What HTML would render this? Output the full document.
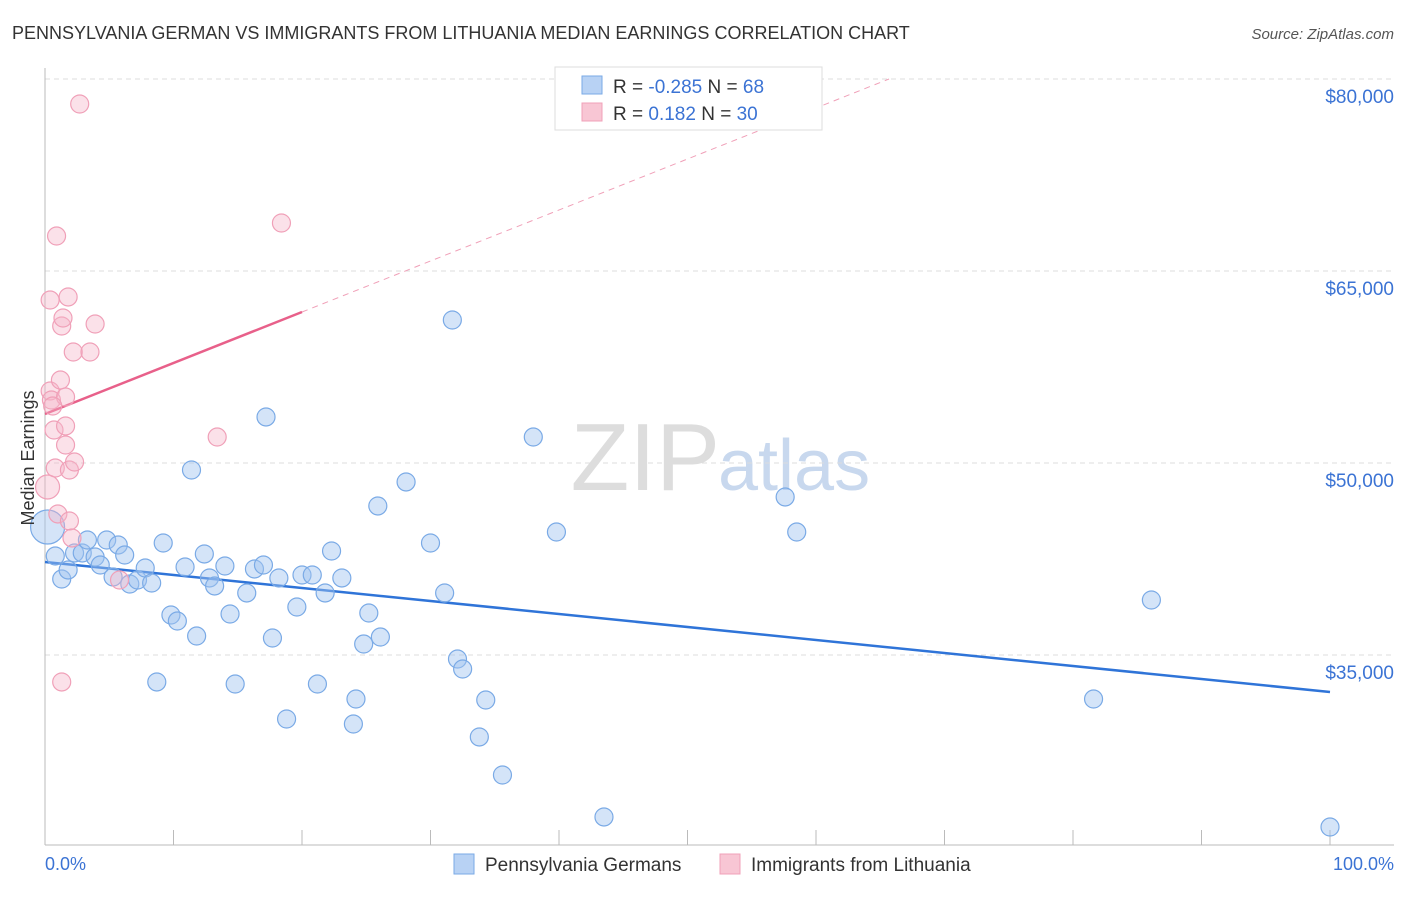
<!DOCTYPE html>
<html><head><meta charset="utf-8"><style>
body{margin:0;background:#fff;font-family:"Liberation Sans",sans-serif}
svg text{font-family:"Liberation Sans",sans-serif}
</style></head><body>
<svg id="chart" width="1406" height="892" xmlns="http://www.w3.org/2000/svg">
<text x="12" y="39" font-size="18" fill="#333">PENNSYLVANIA GERMAN VS IMMIGRANTS FROM LITHUANIA MEDIAN EARNINGS CORRELATION CHART</text>
<text x="1394" y="39" font-size="15" fill="#555" text-anchor="end" font-style="italic">Source: ZipAtlas.com</text>
<text x="720" y="490" font-size="96" fill="#ddd" text-anchor="end" font-family="Liberation Serif">ZIP</text>
<text x="718" y="490" font-size="72" fill="#c8d8ee">atlas</text>
<g id="grid"></g><g id="axes"></g><g id="lines"></g><g id="pts"></g>
<text transform="translate(34,458) rotate(-90)" font-size="18" fill="#333" text-anchor="middle">Median Earnings</text>
<text x="45" y="870" font-size="18" fill="#3b73d4">0.0%</text>
<text x="1394" y="870" font-size="18" fill="#3b73d4" text-anchor="end">100.0%</text>
<g>
<rect x="555" y="67" width="267" height="63" fill="#fff" stroke="#ddd"/>
<rect x="582" y="76" width="20" height="18" fill="#b8d2f4" stroke="#7aaae6"/>
<rect x="582" y="103" width="20" height="18" fill="#f8c6d4" stroke="#f0a0b8"/>
<text x="613" y="93" font-size="19" fill="#333">R = <tspan fill="#3b73d4">-0.285</tspan>   N = <tspan fill="#3b73d4">68</tspan></text>
<text x="613" y="120" font-size="19" fill="#333">R = <tspan fill="#3b73d4">  0.182</tspan>   N = <tspan fill="#3b73d4">30</tspan></text>
</g>
<g>
<rect x="454" y="854" width="20" height="20" fill="#b8d2f4" stroke="#7aaae6"/>
<text x="485" y="871" font-size="19" fill="#333">Pennsylvania Germans</text>
<rect x="720" y="854" width="20" height="20" fill="#f8c6d4" stroke="#f0a0b8"/>
<text x="751" y="871" font-size="19" fill="#333">Immigrants from Lithuania</text>
</g>
</svg>
<script>
const yTicks=[80000,65000,50000,35000];
const yTickLabels=["$80,000","$65,000","$50,000","$35,000"];
const blueX=[0.2,0.8,1.3,1.8,2.3,2.9,3.3,3.9,4.3,4.8,5.3,5.7,6.2,6.6,7.2,7.8,8.3,8.7,9.2,9.8,10.3,10.9,11.4,11.8,12.4,12.8,13.2,14.0,14.4,14.8,15.7,16.3,17.0,17.2,17.7,18.2,18.8,19.6,20.0,20.8,21.2,21.8,22.3,23.1,24.0,24.2,24.8,25.2,25.9,26.1,28.1,30.0,31.1,31.7,32.1,32.5,33.8,34.3,35.6,38.0,39.8,43.5,57.6,58.5,81.6,86.1,100];
const blueY=[45000,42734,40937,41641,42969,42969,43984,42656,42031,43984,41094,43594,42812,40547,40859,41797,40625,32891,43750,38125,37656,41875,49453,36484,42891,41016,40391,41953,38203,32734,39844,41719,42031,53594,36328,41016,30000,38750,41250,41250,32734,39844,43125,41016,29609,31562,35859,38281,46641,36406,48516,43750,39844,61172,34687,33906,28594,31484,25625,52031,44609,22344,47344,44609,31562,39297,21562];
const pinkX=[0.2,0.4,0.4,0.5,0.7,0.8,0.9,1.0,1.2,1.3,1.4,1.6,1.6,1.8,1.9,1.9,2.1,2.2,2.3,2.7,3.5,3.9,5.8,1.3,13.4,18.4,1.6,0.6];
const pinkY=[48125,55625,62734,54922,52578,49609,67734,46016,56484,60703,61328,52891,51406,62969,49453,45469,44141,58672,50078,78047,58672,60859,40859,32891,52031,68750,55156,54453];
const blueLine=[42266,32109];
const pinkLine=[53828,61797];
const X=p=>45+p*12.85, Y=v=>79+(80000-v)*0.0128;
const NS="http://www.w3.org/2000/svg";
function mk(parent,tag,attrs){const e=document.createElementNS(NS,tag);for(const k in attrs)e.setAttribute(k,attrs[k]);document.getElementById(parent).appendChild(e);return e;}
yTicks.forEach((v,i)=>{
 const l=mk('grid','line',{x1:45,x2:1394,y1:Y(v),y2:Y(v),stroke:'#ddd','stroke-dasharray':'5,4'});
 
 
 const t=mk('grid','text',{x:1394,y:Y(v)+24,'font-size':19,fill:'#3b73d4','text-anchor':'end'});
 t.textContent=yTickLabels[i];
 
 
});
const ax=mk('axes','line',{x1:45,x2:1394,y1:845,y2:845,stroke:'#bbb'});


const ay=mk('axes','line',{x1:45,x2:45,y1:68,y2:845,stroke:'#bbb'});


for(let i=0;i<=10;i++){const t=mk('axes','line',{x1:X(i*10),x2:X(i*10),y1:830,y2:845,stroke:'#bbb'});
 
 }
const slope=(pinkLine[1]-pinkLine[0])/20, xEnd=(80000-pinkLine[0])/slope;
const pd=mk('lines','line',{x1:X(20),y1:Y(pinkLine[1]),x2:X(xEnd),y2:Y(80000),stroke:'#f0a0b8','stroke-dasharray':'6,5','stroke-width':1});


const pl=mk('lines','line',{x1:X(0),y1:Y(pinkLine[0]),x2:X(20),y2:Y(pinkLine[1]),stroke:'#e8608a','stroke-width':2.5});


const bl=mk('lines','line',{x1:X(0),y1:Y(blueLine[0]),x2:X(100),y2:Y(blueLine[1]),stroke:'#2f74d8','stroke-width':2.5});


blueX.forEach((x,i)=>{const c=mk('pts','circle',{cx:X(x),cy:Y(blueY[i]),r:i==0?17:9,fill:'rgba(160,196,240,0.45)',stroke:'#7aaae6','stroke-width':1.2});
 
 });
pinkX.forEach((x,i)=>{const c=mk('pts','circle',{cx:X(x),cy:Y(pinkY[i]),r:i==0?12:9,fill:'rgba(245,180,200,0.4)',stroke:'#f0a0b8','stroke-width':1.2});
 
 });
</script>
</body></html>
